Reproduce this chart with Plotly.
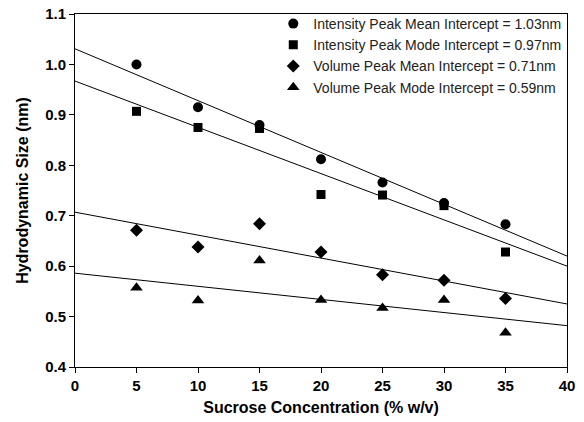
import plotly.graph_objects as go

conc = [5, 10, 15, 20, 25, 30, 35]
int_mean = [1.00, 0.915, 0.880, 0.812, 0.766, 0.725, 0.683]
int_mode = [0.907, 0.875, 0.873, 0.742, 0.741, 0.720, 0.628]
vol_mean = [0.671, 0.638, 0.684, 0.628, 0.583, 0.572, 0.536]
vol_mode = [0.557, 0.532, 0.611, 0.533, 0.517, 0.533, 0.468]

names = ["Intensity Peak Mean Intercept = 1.03nm",
         "Intensity Peak Mode Intercept = 0.97nm",
         "Volume Peak Mean Intercept = 0.71nm",
         "Volume Peak Mode Intercept = 0.59nm"]
symbols = ["circle", "square", "diamond", "triangle-up"]
sizes = [10, 9, 10, 11]

fit_x = [0, 40]
fit_start = [1.031, 0.967, 0.707, 0.586]
fit_end = [0.620, 0.600, 0.525, 0.482]

x_ticks = [0, 5, 10, 15, 20, 25, 30, 35, 40]
x_tick_labels = ["0", "5", "10", "15", "20", "25", "30", "35", "40"]
y_ticks = [0.4, 0.5, 0.6, 0.7, 0.8, 0.9, 1.0, 1.1]
y_tick_labels = ["0.4", "0.5", "0.6", "0.7", "0.8", "0.9", "1.0", "1.1"]

series = [int_mean, int_mode, vol_mean, vol_mode]

fig = go.Figure()
for i in range(4):
    fig.add_trace(go.Scatter(x=fit_x, y=[fit_start[i], fit_end[i]], mode="lines",
                             line=dict(color="black", width=1), showlegend=False,
                             hoverinfo="skip"))
for i in range(4):
    fig.add_trace(go.Scatter(x=conc, y=series[i], mode="markers", name=names[i],
                             marker=dict(symbol=symbols[i], size=sizes[i], color="black")))

axis_common = dict(showline=True, linecolor="black", linewidth=1, mirror=True,
                   ticks="outside", ticklen=5, tickcolor="black", showgrid=False,
                   zeroline=False, automargin=False,
                   tickfont=dict(family="Liberation Sans, Arial", size=15, color="black"))

fig.update_layout(
    width=584, height=422,
    margin=dict(l=75, r=17, t=14, b=55, autoexpand=False),
    paper_bgcolor="white", plot_bgcolor="white",
    font=dict(family="Liberation Sans, Arial", color="black"),
    showlegend=True,
    legend=dict(x=0.403, y=1.017, xanchor="left", yanchor="top",
                bgcolor="rgba(0,0,0,0)", borderwidth=0,
                font=dict(family="Liberation Sans, Arial", size=14, color="#222"),
                tracegroupgap=0),
    xaxis=dict(range=[0, 40], tickvals=x_ticks,
               ticktext=["<b>" + t + "</b>" for t in x_tick_labels],
               title=dict(text="<b>Sucrose Concentration (% w/v)</b>",
                          font=dict(size=16), standoff=8),
               **axis_common),
    yaxis=dict(range=[0.4, 1.1], tickvals=y_ticks,
               ticktext=["<b>" + t + "</b>" for t in y_tick_labels],
               title=dict(text="<b>Hydrodynamic Size (nm)</b>",
                          font=dict(size=16), standoff=12),
               **axis_common),
)

fig.write_html("out.html")
